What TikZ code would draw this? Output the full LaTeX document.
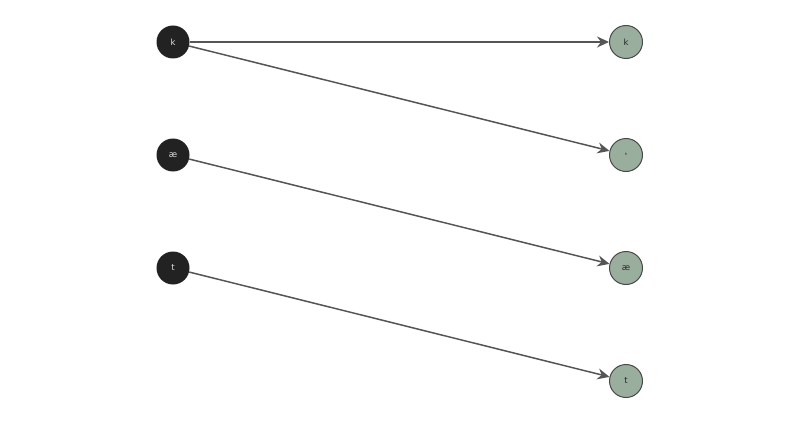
\documentclass[tikz,border=0pt]{standalone}
\usepackage{fontspec}
\setmainfont{DejaVu Sans}
\usetikzlibrary{arrows.meta}
\definecolor{darknode}{HTML}{222222}
\definecolor{greennode}{HTML}{9AAE9E}
\definecolor{edgec}{HTML}{555555}
\begin{document}
\begin{tikzpicture}[x=1pt,y=-1pt,
  src/.style={circle,fill=darknode,minimum size=33pt,inner sep=0pt,text=white!88!black,font=\fontsize{8.5}{9}\selectfont},
  dst/.style={circle,fill=greennode,draw=black!72,line width=1pt,minimum size=33pt,inner sep=0pt,text=black!85,font=\fontsize{8.5}{9}\selectfont},
  link/.style={draw=edgec,line width=1.5pt,-{Stealth[length=12pt,width=11pt,inset=4pt]}}]
\useasboundingbox (0,0) rectangle (800,425);
\node[src] (k1) at (173,42) {k};
\node[src] (ae1) at (173,155) {æ};
\node[src] (t1) at (173,268) {t};
\node[dst] (k2) at (626,42) {k};
\node[dst] (h2) at (626,155) {\fontsize{6}{7}\selectfont ʰ};
\node[dst] (ae2) at (626,268) {æ};
\node[dst] (t2) at (626,381) {t};
\draw[link] (k1) -- (k2);
\draw[link] (k1) -- (h2);
\draw[link] (ae1) -- (ae2);
\draw[link] (t1) -- (t2);
\end{tikzpicture}
\end{document}
